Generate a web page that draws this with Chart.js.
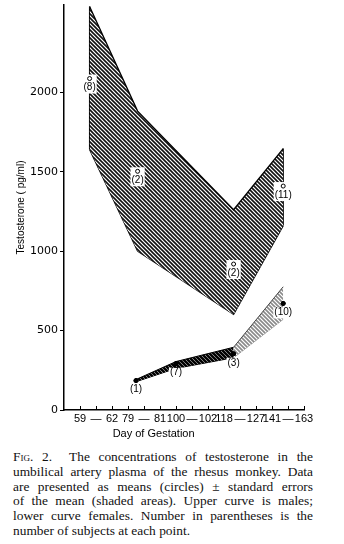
<!DOCTYPE html>
<html>
<head>
<meta charset="utf-8">
<script src="https://cdn.jsdelivr.net/npm/chart.js@4"></script>
<style>
  body { margin: 0; background: #fff; width: 344px; height: 544px; overflow: hidden; position: relative; }
  #chart { position: absolute; left: 0; top: 0; }
  #caption { position: absolute; left: 13px; top: 450px; width: 300px; font-family: 'Liberation Serif', serif; font-size: 13.4px; line-height: 14.8px; color: #111; }
  #caption div { text-align: justify; text-align-last: justify; }
  #caption div.last { text-align-last: left; }
  .sc { font-variant: small-caps; }
</style>
</head>
<body>
<canvas id="chart" width="344" height="445"></canvas>
<div id="caption">
  <div><span class="sc">Fig.</span> 2.&nbsp; The concentrations of testosterone in the</div>
  <div>umbilical artery plasma of the rhesus monkey. Data</div>
  <div>are presented as means (circles) ± standard errors</div>
  <div>of the mean (shaded areas). Upper curve is males;</div>
  <div>lower curve females. Number in parentheses is the</div>
  <div class="last">number of subjects at each point.</div>
</div>
<script>
const xTickLabels = ['', '59', '—', '62', '79', '—', '81', '100', '—', '102', '118', '—', '127', '141', '—', '163'];
const yTicks = [0, 500, 1000, 1500, 2000];
const xTitle = 'Day of Gestation';
const yTitle = 'Testosterone ( pg/ml)';

// males (upper curve)
const maleX = [1.6, 4.6, 10.6, 13.7];
const maleUpper = [2540, 1882, 1261, 1646];
const maleLower = [1640, 1000, 602, 1161];
const maleMean = [2087, 1503, 919, 1410];
const maleN = [8, 2, 2, 11];

// females (lower curve)
const femaleX = [4.5, 7.0, 10.6, 13.7];
const femaleUpper = [192, 305, 395, 776];
const femaleLower = [178, 262, 329, 571];
const femaleMean = [185, 292, 354, 671];
const femaleN = [1, 7, 3, 10];

function pts(xs, ys) {
    return xs.map((x, i) => ({x: x, y: ys[i]}));
}

// diagonal hatching like the printed figure
function hatch(size, color, width) {
    const c = document.createElement('canvas');
    c.width = size; c.height = size;
    const g = c.getContext('2d');
    g.fillStyle = '#fff';
    g.fillRect(0, 0, size, size);
    g.strokeStyle = color;
    g.lineWidth = width;
    g.beginPath();
    g.moveTo(-1, -1); g.lineTo(size + 1, size + 1);
    g.moveTo(-size - 1, -1); g.lineTo(1, size + 1);
    g.moveTo(size - 1, -1); g.lineTo(2 * size + 1, size + 1);
    g.stroke();
    return g.createPattern(c, 'repeat');
}

const maleFill = hatch(4, '#111', 1.6);
const femaleDark = hatch(4, '#000', 2.4);
const femaleLight = hatch(4, '#8a8a8a', 1.6);

const countLabels = {
    id: 'countLabels',
    afterDatasetsDraw(chart) {
        const ctx = chart.ctx;
        ctx.save();
        ctx.font = '10px "Liberation Sans"';
        ctx.textAlign = 'center';
        ctx.textBaseline = 'middle';
        chart.data.datasets.forEach((ds, di) => {
            if (!ds.counts) return;
            const meta = chart.getDatasetMeta(di);
            meta.data.forEach((pt, i) => {
                const txt = '(' + ds.counts[i] + ')';
                const w = ctx.measureText(txt).width + 2;
                const ty = pt.y + 9;
                const top = ds.openMarker ? pt.y - 4 : ty - 5;
                ctx.fillStyle = '#fff';
                ctx.fillRect(pt.x - w / 2, top, w, ty + 6 - top);
                ctx.fillStyle = '#000';
                ctx.fillText(txt, pt.x, ty);
                pt.draw(ctx, chart.chartArea);
            });
        });
        ctx.restore();
    }
};

const axisExtras = {
    id: 'axisExtras',
    afterDraw(chart) {
        const x = chart.scales.x, y = chart.scales.y;
        const ctx = chart.ctx;
        ctx.save();
        ctx.strokeStyle = '#000';
        ctx.lineWidth = 1;
        const y0 = y.getPixelForValue(0);
        for (let i = 1; i < xTickLabels.length; i++) {
            const px = Math.round(x.getPixelForValue(i)) + 0.5;
            ctx.beginPath();
            ctx.moveTo(px, y0);
            ctx.lineTo(px, y0 - 4);
            ctx.stroke();
        }
        ctx.font = '11px "Liberation Sans"';
        ctx.fillStyle = '#000';
        ctx.textAlign = 'center';
        ctx.fillText(xTitle, x.getPixelForValue(5.6), 437);
        ctx.restore();
    }
};

const edge = {borderColor: '#000', borderWidth: 1.3, pointRadius: 0, fill: false, order: 2};

new Chart(document.getElementById('chart'), {
    type: 'line',
    data: {
        datasets: [
            {data: pts(maleX, maleUpper), borderColor: '#000', borderWidth: 1.3, pointRadius: 0,
             fill: '+1', backgroundColor: maleFill, order: 2},
            {data: pts(maleX, maleLower), borderColor: '#000', borderWidth: 1.3, pointRadius: 0, fill: false, order: 2},
            Object.assign({data: pts([maleX[0], maleX[0]], [maleUpper[0], maleLower[0]])}, edge),
            Object.assign({data: pts([maleX[3], maleX[3]], [maleUpper[3], maleLower[3]])}, edge),
            {data: pts(femaleX, femaleUpper), borderColor: '#000', borderWidth: 1, pointRadius: 0,
             fill: '+1', backgroundColor: femaleDark, order: 2,
             segment: {
                 backgroundColor: c => c.p0DataIndex >= 2 ? femaleLight : femaleDark,
                 borderColor: c => c.p0DataIndex >= 2 ? '#444' : '#000'
             }},
            {data: pts(femaleX, femaleLower), borderColor: '#000', borderWidth: 1, pointRadius: 0, fill: false, order: 2,
             segment: {borderColor: c => c.p0DataIndex >= 2 ? '#999' : '#000'}},
            {data: pts(maleX, maleMean), counts: maleN, openMarker: true, showLine: false,
             pointRadius: 2, pointBackgroundColor: '#fff', pointBorderColor: '#000', pointBorderWidth: 1, order: 0},
            {data: pts(femaleX, femaleMean), counts: femaleN, showLine: false,
             pointRadius: 2, pointBackgroundColor: '#000', pointBorderColor: '#000', pointBorderWidth: 1, order: 0}
        ]
    },
    options: {
        responsive: false,
        animation: false,
        devicePixelRatio: 1,
        layout: {padding: {left: 0, right: 40, top: 0, bottom: 0}},
        elements: {line: {tension: 0}},
        plugins: {legend: {display: false}, tooltip: {enabled: false}},
        scales: {
            x: {
                type: 'linear', min: 0, max: 15,
                afterBuildTicks: s => { s.ticks = xTickLabels.map((t, i) => ({value: i})); },
                afterFit: s => { s.height = 35; s.paddingLeft = 0; s.paddingRight = 0; },
                border: {color: '#000', width: 1.5},
                grid: {display: false, drawTicks: false, tickLength: 0},
                ticks: {autoSkip: false, maxRotation: 0, padding: 2, color: '#000',
                        font: {family: 'Liberation Sans', size: 11},
                        callback: v => xTickLabels[v]}
            },
            y: {
                min: 0, max: 2550,
                afterBuildTicks: s => { s.ticks = yTicks.map(v => ({value: v})); },
                afterFit: s => { s.width = 64; s.paddingTop = 0; s.paddingBottom = 0; },
                border: {color: '#000', width: 1.5},
                grid: {drawOnChartArea: false, tickLength: 4, color: '#000'},
                ticks: {padding: 2, color: '#000', font: {family: 'DejaVu Sans', size: 11},
                        callback: v => String(v)},
                title: {display: true, text: yTitle, color: '#000', padding: {top: 15, bottom: 0},
                        font: {family: 'Liberation Sans', size: 10}}
            }
        }
    },
    plugins: [countLabels, axisExtras]
});
</script>
</body>
</html>
